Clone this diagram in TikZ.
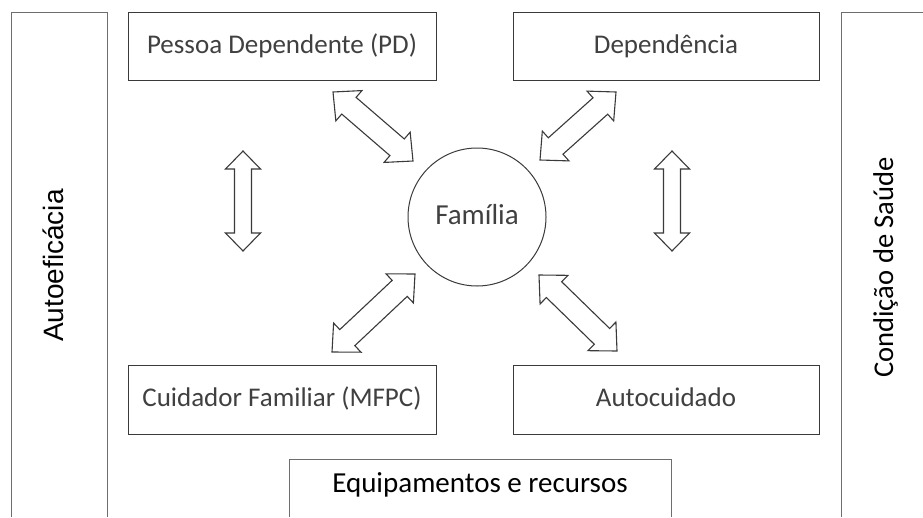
\documentclass[tikz,border=0pt]{standalone}
\usepackage{fontspec}
\setmainfont{Carlito}
\newfontfamily\arialf{Liberation Sans}
\usetikzlibrary{calc}
\definecolor{txtgray}{HTML}{404040}
\definecolor{linegray}{HTML}{3A3A3A}
\definecolor{lightline}{HTML}{6E6E6E}
% block double arrow between two tips: #1 #2 tips, #3 head length, #4 half head width, #5 half shaft width
\newcommand\BlockArrow[5]{%
  \draw[blockarrow] (#1)
  -- ($(#1)!#3!(#2)!#4!90:(#2)$)
  -- ($(#1)!#3!(#2)!#5!90:(#2)$)
  -- ($(#2)!#3!(#1)!#5!-90:(#1)$)
  -- ($(#2)!#3!(#1)!#4!-90:(#1)$)
  -- (#2)
  -- ($(#2)!#3!(#1)!#4!90:(#1)$)
  -- ($(#2)!#3!(#1)!#5!90:(#1)$)
  -- ($(#1)!#3!(#2)!#5!-90:(#2)$)
  -- ($(#1)!#3!(#2)!#4!-90:(#2)$)
  -- cycle;}
\begin{document}
\begin{tikzpicture}[x=1pt,y=-1pt,
  box/.style={draw=linegray, line width=1pt, inner sep=0pt, text=txtgray,
    font=\fontsize{27}{32}\selectfont, text height=20pt, text depth=6pt},
  openbox/.style={draw=lightline, line width=1pt},
  sidelbl/.style={text=black, rotate=90, anchor=base, inner sep=0pt},
  blockarrow/.style={draw=linegray, line width=1.1pt, line join=miter, fill=white}]
\useasboundingbox (0,0) rectangle (923,517);

% side frames
\draw[openbox] (11,517) -- (11,12) -- (107,12) -- (107,517);
\draw[openbox] (841,517) -- (841,12) -- (923,12);
\draw[openbox] (289,517) -- (289,459) -- (671,459) -- (671,517);

\node[sidelbl, font=\arialf\fontsize{28}{32}\selectfont] (autoef) at (63,265.5) {Autoeficácia};
\node[sidelbl, font=\fontsize{28.6}{32}\selectfont] (condicao) at (893,267.5) {Condição de Saúde};
\node[anchor=base, inner sep=0pt, text=black, font=\fontsize{29}{34}\selectfont] (equip) at (480,492) {Equipamentos e recursos};

% main boxes
\node[box, minimum width=308pt, minimum height=68pt] (pd) at (282,46) {Pessoa Dependente (PD)};
\node[box, minimum width=306pt, minimum height=68pt] (dep) at (666,46) {Dependência};
\node[box, minimum width=308pt, minimum height=69pt] (cuid) at (282,399.5) {Cuidador Familiar (MFPC)};
\node[box, minimum width=306pt, minimum height=69pt] (auto) at (666,399.5) {Autocuidado};

% family circle
\node[circle, draw=linegray, line width=1pt, minimum size=138pt, inner sep=0pt, text=txtgray,
  font=\fontsize{29}{34}\selectfont, text height=20pt, text depth=6pt] (fam) at (477,217) {Família};

% arrow end points
\coordinate (a1s) at (333,92);  \coordinate (a1e) at (413,161);
\coordinate (a2s) at (616,92);  \coordinate (a2e) at (540,160);
\coordinate (a3s) at (415,274); \coordinate (a3e) at (332,352);
\coordinate (a4s) at (539,275); \coordinate (a4e) at (617,351);
\coordinate (v1s) at (243,151); \coordinate (v1e) at (243,251);
\coordinate (v2s) at (672,151); \coordinate (v2e) at (672,251);

\BlockArrow{a1s}{a1e}{21pt}{20pt}{11pt}
\BlockArrow{a2s}{a2e}{21pt}{20pt}{11pt}
\BlockArrow{a3s}{a3e}{21pt}{20pt}{11pt}
\BlockArrow{a4s}{a4e}{21pt}{20pt}{11pt}
\BlockArrow{v1s}{v1e}{18pt}{17.5pt}{8.5pt}
\BlockArrow{v2s}{v2e}{18pt}{17.5pt}{8.5pt}
\end{tikzpicture}
\end{document}
